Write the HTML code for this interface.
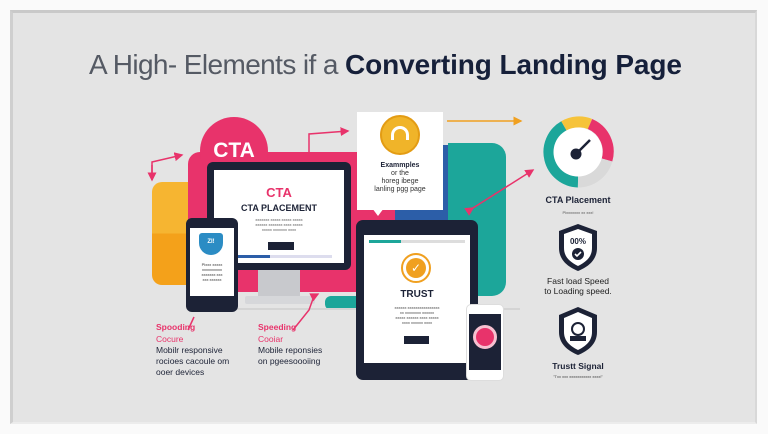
<!DOCTYPE html>
<html><head><meta charset="utf-8"><style>
*{margin:0;padding:0;box-sizing:border-box}
body{width:768px;height:434px;background:#fafafa;position:relative;overflow:hidden;font-family:"Liberation Sans",sans-serif}
.a{position:absolute}
.t{position:absolute;white-space:nowrap;color:#1c2236}
</style></head><body>
<div class="a" style="left:10px;top:10px;width:747px;height:414px;background:#e4e4e4;border-top:3px solid #c9c9c9;border-left:3px solid #cfcfcf;border-right:2px solid #d8d8d8;border-bottom:2px solid #ececec"></div>

<div class="t" style="left:89px;top:49px;font-size:28px;letter-spacing:-0.6px;color:#555a64"><span style="font-weight:400">A High- Elements if a </span><span style="color:#16203a;font-weight:700;letter-spacing:-0.1px">Converting Landing Page</span></div>

<!-- background shapes -->
<div class="a" style="left:152px;top:182px;width:60px;height:103px;background:linear-gradient(#f6b531 0 50%,#f4a11a 50%);border-radius:10px"></div>
<div class="a" style="left:188px;top:152px;width:270px;height:140px;background:#e8336b;border-radius:12px"></div>
<div class="a" style="left:395px;top:145px;width:80px;height:150px;background:#2c5ea8;border-radius:8px"></div>
<div class="a" style="left:448px;top:143px;width:58px;height:153px;background:#1ca69a;border-radius:0 14px 14px 0"></div>
<div class="a" style="left:325px;top:296px;width:40px;height:14px;background:#1ca69a;border-radius:6px 0 0 6px"></div>
<div class="a" style="left:200px;top:308px;width:320px;height:2px;background:#d4d4d4"></div>

<!-- CTA circle -->
<div class="a" style="left:200px;top:117px;width:68px;height:68px;border-radius:50%;background:#e8336b;color:#fff;font-weight:bold;font-size:21px;text-align:center;line-height:68px">CTA</div>

<!-- monitor -->
<div class="a" style="left:258px;top:268px;width:42px;height:30px;background:#c8c9cd"></div>
<div class="a" style="left:245px;top:296px;width:70px;height:8px;background:#d6d7da;border-radius:2px"></div>
<div class="a" style="left:207px;top:162px;width:144px;height:108px;background:#1c2236;border-radius:6px"></div>
<div class="a" style="left:214px;top:170px;width:130px;height:93px;background:#fff"></div>
<div class="t" style="left:214px;top:185px;width:130px;text-align:center;color:#e8336b;font-weight:bold;font-size:13px">CTA</div>
<div class="t" style="left:214px;top:203px;width:130px;text-align:center;font-weight:bold;font-size:9px">CTA PLACEMENT</div>
<div class="t" style="left:214px;top:217px;width:130px;text-align:center;font-size:4px;line-height:5px;color:#555">xxxxxxx xxxxx xxxxx xxxxx<br>xxxxxx xxxxxxx xxxx xxxxx<br>xxxxx xxxxxxx xxxx</div>
<div class="a" style="left:268px;top:242px;width:26px;height:8px;background:#1c2236"></div>
<div class="a" style="left:236px;top:255px;width:96px;height:3px;background:#dde"></div>
<div class="a" style="left:236px;top:255px;width:34px;height:3px;background:#2c5ea8"></div>

<!-- left phone -->
<div class="a" style="left:186px;top:218px;width:52px;height:94px;background:#1c2236;border-radius:6px"></div>
<div class="a" style="left:190px;top:228px;width:44px;height:68px;background:#fff"></div>
<div class="a" style="left:199px;top:233px;width:24px;height:22px;background:#2b8cc4;border-radius:3px 3px 12px 12px;color:#fff;font-size:6px;font-weight:bold;text-align:center;line-height:18px">ZI!</div>
<div class="t" style="left:190px;top:262px;width:44px;text-align:center;font-size:4px;line-height:5px;color:#333">Plxxx xxxxx<br>xxxxxxxxxx<br>xxxxxxx xxx<br>xxx xxxxxx</div>

<!-- callout -->
<div class="a" style="left:357px;top:112px;width:86px;height:98px;background:#fff"></div>
<div class="a" style="left:380px;top:115px;width:40px;height:40px;border-radius:50%;background:#f0b429;border:2px solid #e39c14"></div>
<div class="a" style="left:391px;top:126px;width:18px;height:14px;border:3px solid #fff;border-bottom:none;border-radius:9px 9px 0 0"></div>
<div class="t" style="left:357px;top:161px;width:86px;text-align:center;font-size:7px;line-height:9px;font-weight:bold">Exammples</div>
<div class="t" style="left:357px;top:170px;width:86px;text-align:center;font-size:7px;line-height:8px;color:#333">or the<br>horeg ibege<br>lanling pgg page</div>
<div class="a" style="left:372px;top:208px;width:0;height:0;border-left:6px solid transparent;border-right:6px solid transparent;border-top:8px solid #fff"></div>

<!-- tablet -->
<div class="a" style="left:356px;top:220px;width:122px;height:160px;background:#1c2236;border-radius:7px"></div>
<div class="a" style="left:364px;top:235px;width:106px;height:128px;background:#fff"></div>
<div class="a" style="left:369px;top:240px;width:96px;height:3px;background:#ddd"></div>
<div class="a" style="left:369px;top:240px;width:32px;height:3px;background:#1ca69a"></div>
<div class="a" style="left:401px;top:253px;width:30px;height:30px;border-radius:50%;border:2px solid #f0a020;background:#fff"></div>
<div class="a" style="left:406px;top:258px;width:20px;height:20px;border-radius:50%;background:#f0a020;color:#fff;text-align:center;font-size:12px;line-height:20px">✓</div>
<div class="t" style="left:364px;top:289px;width:106px;text-align:center;font-weight:bold;font-size:10px">TRUST</div>
<div class="t" style="left:364px;top:305px;width:106px;text-align:center;font-size:4px;line-height:5px;color:#444">xxxxxx xxxxxxxxxxxxxxxx<br>xx xxxxxxxx xxxxxx<br>xxxxx xxxxxx xxxx xxxxx<br>xxxx xxxxxx xxxx</div>
<div class="a" style="left:404px;top:336px;width:25px;height:8px;background:#1c2236"></div>

<!-- small phone -->
<div class="a" style="left:466px;top:304px;width:38px;height:77px;background:#fff;border:1px solid #ddd;border-radius:5px"></div>
<div class="a" style="left:469px;top:314px;width:32px;height:56px;background:#1c2236"></div>
<div class="a" style="left:473px;top:325px;width:24px;height:24px;border-radius:50%;background:#e8336b;border:3px solid #f6c0d0"></div>

<!-- gauge -->
<svg class="a" style="left:540px;top:114px" width="76" height="76" viewBox="0 0 76 76">
<g fill="none" stroke-width="11">
<path d="M38 68 A30 30 0 0 1 24 12" stroke="#1ca69a"/>
<path d="M24 12 A30 30 0 0 1 50 10" stroke="#f6c33a"/>
<path d="M50 10 A30 30 0 0 1 67 46" stroke="#e8336b"/>
<path d="M67 46 A30 30 0 0 1 38 68" stroke="#d9d9d9"/>
</g>
<circle cx="38" cy="38" r="24.5" fill="#fff"/>
<circle cx="36" cy="40" r="5.5" fill="#1c2236"/>
<line x1="36" y1="40" x2="50" y2="26" stroke="#1c2236" stroke-width="2.5"/>
</svg>
<div class="t" style="left:538px;top:195px;width:80px;text-align:center;font-weight:bold;font-size:9px">CTA Placement</div>
<div class="t" style="left:538px;top:210px;width:80px;text-align:center;font-size:4px;color:#555">Plxxxxxxx xx xxx!</div>

<svg class="a" style="left:556px;top:222px" width="44" height="50" viewBox="0 0 44 50">
<path d="M22 2 L41 9 L41 26 C41 38 32 45 22 49 C12 45 3 38 3 26 L3 9 Z" fill="#1c2236"/>
<path d="M22 7 L36 12 L36 26 C36 35 30 40 22 44 C14 40 8 35 8 26 L8 12 Z" fill="#fff"/>
<text x="22" y="22" font-family="Liberation Sans" font-size="8" font-weight="bold" text-anchor="middle" fill="#1c2236">00%</text>
<circle cx="22" cy="32" r="6" fill="#1c2236"/><path d="M19 32 l2 2 l4 -4" stroke="#fff" stroke-width="1.6" fill="none"/>
</svg>
<div class="t" style="left:530px;top:276px;width:96px;text-align:center;font-size:8.5px;line-height:10px;color:#222">Fast load Speed<br>to Loading speed.</div>

<svg class="a" style="left:556px;top:305px" width="44" height="52" viewBox="0 0 44 52">
<path d="M22 2 L41 10 L41 27 C41 39 32 46 22 50 C12 46 3 39 3 27 L3 10 Z" fill="#1c2236"/>
<path d="M22 7 L36 13 L36 27 C36 36 30 41 22 45 C14 41 8 36 8 27 L8 13 Z" fill="#fff"/>
<circle cx="22" cy="24" r="6" fill="none" stroke="#1c2236" stroke-width="2"/>
<rect x="14" y="31" width="16" height="5" fill="#1c2236"/>
</svg>
<div class="t" style="left:530px;top:361px;width:96px;text-align:center;font-weight:bold;font-size:8.5px">Trustt Signal</div>
<div class="t" style="left:530px;top:374px;width:96px;text-align:center;font-size:4px;color:#444">"Txx xxx xxxxxxxxxxx xxxx!"</div>

<!-- arrows -->
<svg class="a" style="left:0;top:0" width="768" height="434">
<defs><marker id="m" markerWidth="6" markerHeight="6" refX="5" refY="3" orient="auto"><path d="M0 0 L6 3 L0 6 Z" fill="#e8336b"/></marker>
<marker id="o" markerWidth="6" markerHeight="6" refX="5" refY="3" orient="auto"><path d="M0 0 L6 3 L0 6 Z" fill="#f0a020"/></marker></defs>
<path d="M152 178 L152 162 L182 155" stroke="#e8336b" stroke-width="1.5" fill="none" marker-end="url(#m)"/>
<path d="M152 165 L152 180" stroke="#e8336b" stroke-width="1.5" fill="none" marker-end="url(#m)"/>
<path d="M309 152 L309 134 L348 131" stroke="#e8336b" stroke-width="1.5" fill="none" marker-end="url(#m)"/>
<path d="M447 121 L521 121" stroke="#f0a020" stroke-width="1.5" fill="none" marker-end="url(#o)"/>
<path d="M473 208 L533 170" stroke="#e8336b" stroke-width="1.5" fill="none" marker-end="url(#m)" marker-start="url(#m)"/>
<path d="M194 317 L188 330" stroke="#e8336b" stroke-width="1.5" fill="none"/>
<path d="M293 330 L309 310 L314 296 L318 294" stroke="#e8336b" stroke-width="1.5" fill="none" marker-end="url(#m)"/>
</svg>

<!-- bottom labels -->
<div class="t" style="left:156px;top:322px;font-size:8.5px;font-weight:bold;color:#e8336b">Spooding</div>
<div class="t" style="left:156px;top:334px;font-size:8.5px;color:#e8336b">Cocure</div>
<div class="t" style="left:156px;top:345px;font-size:8.5px;line-height:11px;color:#1c2236">Mobilr responsive<br>rocioes cacoule om<br>ooer devices</div>
<div class="t" style="left:258px;top:322px;font-size:8.5px;font-weight:bold;color:#e8336b">Speeding</div>
<div class="t" style="left:258px;top:334px;font-size:8.5px;color:#e8336b">Cooiar</div>
<div class="t" style="left:258px;top:345px;font-size:8.5px;line-height:11px;color:#1c2236">Mobile reponsies<br>on pgeesoooiing</div>
</body></html>
